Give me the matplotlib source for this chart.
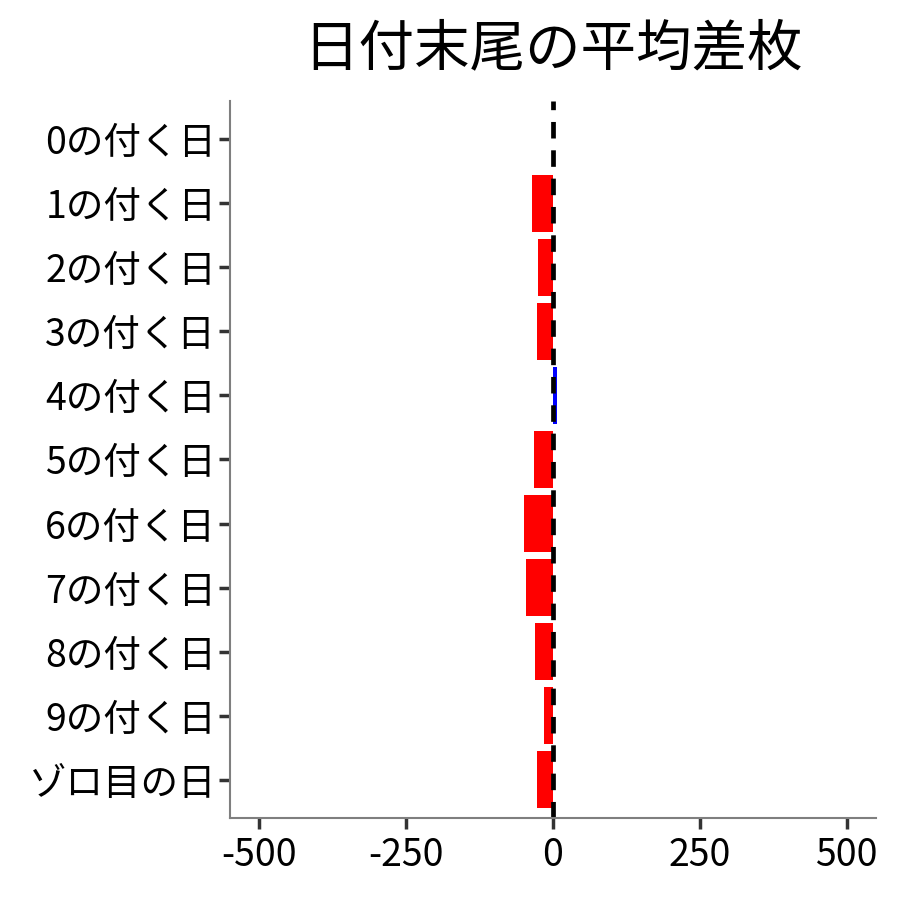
import numpy as np
import matplotlib
matplotlib.use("Agg")
import matplotlib.pyplot as plt

plt.rcParams['font.family'] = ['Noto Sans CJK JP', 'DejaVu Sans']

# %% Data

labels = ["0の付く日", "1の付く日", "2の付く日", "3の付く日", "4の付く日",
          "5の付く日", "6の付く日", "7の付く日", "8の付く日", "9の付く日",
          "ゾロ目の日"]
values = [0, -36, -26, -27, 6, -32, -49, -46, -31, -15, -27]
xticks = [-500, -250, 0, 250, 500]

# %% Plot

colors = ["blue" if v > 0 else "red" for v in values]
ypos = np.arange(len(labels))

fig = plt.figure(figsize=(9, 9), dpi=100)
ax = fig.add_axes([0.2556, 0.0911, 0.7178, 0.7967])

ax.barh(ypos, values, height=0.9, color=colors)
ax.axvline(0, color="black", linestyle=(0, (3.5, 2.5)), linewidth=3.4)

ax.set_yticks(ypos)
ax.set_yticklabels(labels, fontsize=27)
ax.set_xticks(xticks)
ax.set_xticklabels([str(t) for t in xticks], fontsize=27)
ax.set_xlim(-550, 550)
ax.set_ylim(len(labels) - 0.4, -0.6)

for s in ["top", "right"]:
    ax.spines[s].set_visible(False)
for s in ["left", "bottom"]:
    ax.spines[s].set_color("#7f7f7f")
    ax.spines[s].set_linewidth(1.5)
ax.tick_params(axis="both", length=8, width=2.5, color="#333333",
               labelcolor="black", pad=2)
ax.tick_params(axis="x", pad=5)

ax.set_title("日付末尾の平均差枚", fontsize=40, pad=26)

fig.savefig("out.png", dpi=100)
